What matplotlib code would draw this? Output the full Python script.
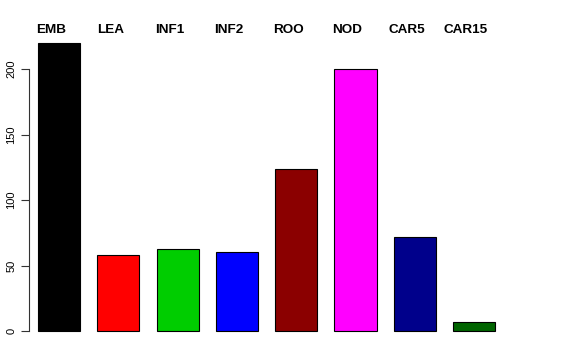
import matplotlib
matplotlib.use("Agg")
import matplotlib.pyplot as plt

tissues = ["EMB", "LEA", "INF1", "INF2", "ROO", "NOD", "CAR5", "CAR15"]
counts = [220, 58, 63, 60, 124, 200, 72, 7]
colors = ["black", "red", "#00CD00", "blue", "#8B0000", "magenta", "#00008B", "#006400"]

W, H = 576, 360
plt.rcParams["font.family"] = ["Liberation Sans", "DejaVu Sans"]
fig = plt.figure(figsize=(W / 100, H / 100), dpi=100)

# axes placed in pixel units: y=0 at 331px, y=220 at 43px
left, right, bottom, top = 29, 520, 331, 43
ax = fig.add_axes([left / W, 1 - bottom / H, (right - left) / W, (bottom - top) / H])

x = list(range(len(tissues)))
ax.bar(x, counts, width=0.71, color=colors, edgecolor="black", linewidth=0.8, clip_on=False)

ax.set_ylim(0, 220)
ax.set_xlim((left - 59) / 59.3, (right - 59) / 59.3)
for s in ["top", "right", "bottom"]:
    ax.spines[s].set_visible(False)
ax.spines["left"].set_bounds(0, 200)
ax.spines["left"].set_color("#333333")
ax.set_xticks([])
ax.set_yticks([0, 50, 100, 150, 200])
ax.tick_params(axis="y", length=6, width=0.8, color="#333333", labelsize=8, pad=3)
for lab in ax.get_yticklabels():
    lab.set_rotation(90)
    lab.set_va("center")

# column labels along the top, slightly left of each bar centre
trans = ax.get_xaxis_transform()
for i, name in enumerate(tissues):
    ax.text(i - 0.135, 1 + 13 / (bottom - top), name, transform=trans,
            ha="center", va="center", fontsize=9.7, fontweight="bold", clip_on=False)

fig.savefig("out.png", dpi=100)
